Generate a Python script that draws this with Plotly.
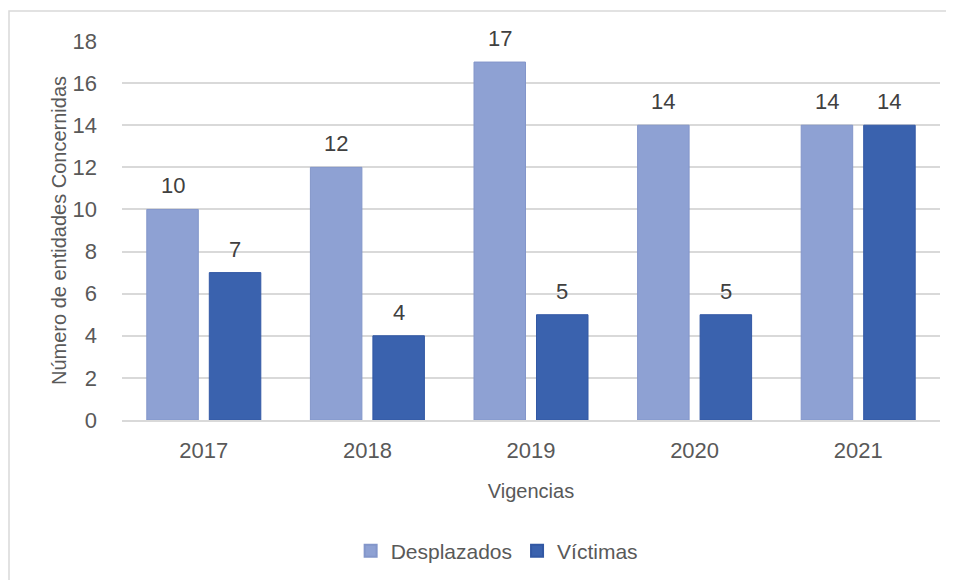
import plotly.graph_objects as go

years = ["2017", "2018", "2019", "2020", "2021"]
desplazados = [10, 12, 17, 14, 14]
victimas = [7, 4, 5, 5, 14]
y_ticks = [0, 2, 4, 6, 8, 10, 12, 14, 16, 18]

FONT = "Liberation Sans, Arial, sans-serif"
TXT = "#595959"
LBL = "#404040"

# page is drawn with an 8px body offset -> margins compensate
ML, MT, MR, MB = 114, 33, 22, 168
W, H = 954, 580
PW = W - ML - MR
PH = H - MT - MB

BARGAP = 0.236
GROUPGAP = 0.176

fig = go.Figure()
fig.add_trace(go.Bar(
    x=years, y=desplazados, name="Desplazados",
    marker=dict(color="#8EA1D3", line=dict(color="#8396CA", width=1)),
))
fig.add_trace(go.Bar(
    x=years, y=victimas, name="Víctimas",
    marker=dict(color="#3A62AE", line=dict(color="#3258A4", width=1)),
))

# data labels above each bar (x given as category index)
cat_w = PW / len(years)
slot = cat_w * (1 - BARGAP) / 2
annotations = []
for series, sign in ((desplazados, -1), (victimas, 1)):
    for i, v in enumerate(series):
        annotations.append(dict(
            x=i, y=v, xref="x", yref="y", text=str(v), showarrow=False,
            xshift=sign * slot / 2, yshift=9, yanchor="bottom",
            font=dict(family=FONT, size=22, color=LBL),
        ))

fig.update_layout(
    width=W, height=H,
    margin=dict(l=ML, r=MR, t=MT, b=MB),
    paper_bgcolor="white", plot_bgcolor="white",
    barmode="group", bargap=BARGAP, bargroupgap=GROUPGAP,
    font=dict(family=FONT, size=20, color=TXT),
    legend=dict(orientation="h", x=0.458, xanchor="center", y=(412 - 543) / PH, yanchor="middle",
                font=dict(size=21, color=TXT), itemsizing="constant", traceorder="normal"),
    xaxis=dict(
        type="category", range=[-0.5, len(years) - 0.5],
        title=dict(text="Vigencias", font=dict(size=20, color=TXT), standoff=22),
        showline=True, linecolor="#D9D9D9", linewidth=1.5,
        ticks="", ticklabelstandoff=10, tickfont=dict(size=22, color=TXT),
    ),
    yaxis=dict(
        title=dict(text="Número de entidades Concernidas", font=dict(size=20, color=TXT), standoff=0),
        range=[0, 18], tickvals=y_ticks, ticks="", ticklabelstandoff=24,
        showgrid=True, gridcolor="#D9D9D9", gridwidth=1.5,
        zeroline=False, tickfont=dict(size=22, color=TXT),
    ),
    annotations=annotations,
    shapes=[dict(type="rect", xref="paper", yref="paper",
                 x0=(1 - ML) / PW, x1=(980 - ML) / PW,
                 y0=(PH + MT - 620) / PH, y1=(PH + MT - 3) / PH,
                 line=dict(color="#D9D9D9", width=1.5), fillcolor="rgba(0,0,0,0)", layer="below")],
)

fig.write_html("out.html")
